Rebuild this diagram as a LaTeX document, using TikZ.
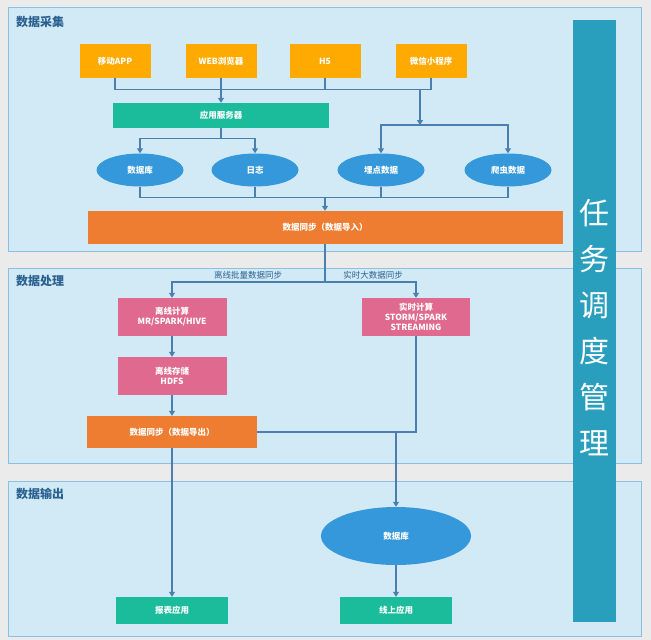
\documentclass[tikz,border=0pt]{standalone}
\usepackage{fontspec}
\setmainfont{Noto Sans CJK SC}
\usetikzlibrary{arrows.meta,shapes.geometric}
\definecolor{pagebg}{HTML}{EBEBEB}
\definecolor{panelfill}{HTML}{D2EAF6}
\definecolor{paneldraw}{HTML}{8CC0E2}
\definecolor{amber}{HTML}{FFAA00}
\definecolor{mint}{HTML}{1ABC9C}
\definecolor{skyblue}{HTML}{3498DB}
\definecolor{carrot}{HTML}{EF7D31}
\definecolor{rose}{HTML}{E0698F}
\definecolor{teal}{HTML}{2A9EBD}
\definecolor{wire}{HTML}{4A7FB0}
\definecolor{titleblue}{HTML}{2B6190}
\begin{document}
\begin{tikzpicture}[x=1pt, y=-1pt,
  panel/.style={fill=panelfill, draw=paneldraw, line width=0.8pt},
  ptitle/.style={text=titleblue, font=\fontsize{12}{14}\selectfont\bfseries, anchor=west, inner sep=0pt},
  box/.style={rectangle, text=white, font=\fontsize{8.5}{10}\selectfont\bfseries, inner sep=0pt, align=center},
  src/.style={box, fill=amber, minimum width=71pt, minimum height=34pt},
  srv/.style={box, fill=mint},
  store/.style={box, ellipse, fill=skyblue, minimum width=87pt, minimum height=33pt},
  sync/.style={box, fill=carrot},
  calc/.style={box, fill=rose, minimum width=109pt, minimum height=38pt},
  line/.style={draw=wire, line width=1.1pt},
  arr/.style={line, -{Triangle[length=5pt,width=6pt]}},
  lbl/.style={text=titleblue, font=\fontsize{8.5}{10}\selectfont, inner sep=0pt}]
  \useasboundingbox (0,0) rectangle (651,640);
  \fill[pagebg] (0,0) rectangle (651,640);
  \draw[panel] (8,7) rectangle (641,251);
  \draw[panel] (8,268) rectangle (641,463);
  \draw[panel] (8,481) rectangle (641,636);
  \node[ptitle] (t1) at (16,22) {数据采集};
  \node[ptitle] (t2) at (16,281) {数据处理};
  \node[ptitle] (t3) at (16,494) {数据输出};
  \fill[teal] (573,20) rectangle (616,622);
  \node[text=white, font=\fontsize{30}{46}\selectfont, align=center, inner sep=0pt] (sched) at (594.5,328) {任\\务\\调\\度\\管\\理};

  \node[src] (app) at (115,61) {移动APP};
  \node[src] (web) at (221,61) {WEB浏览器};
  \node[src] (h5) at (325,61) {H5};
  \node[src] (wx) at (431,61) {微信小程序};
  \node[srv, minimum width=216pt, minimum height=25pt] (appsrv) at (221,115.5) {应用服务器};
  \node[store] (db) at (140,170) {数据库};
  \node[store] (log) at (255,170) {日志};
  \node[store] (track) at (381,170) {埋点数据};
  \node[store] (crawl) at (508,170) {爬虫数据};
  \node[sync, minimum width=475pt, minimum height=33pt] (import) at (325,227.5) {数据同步（数据导入）};
  \node[calc] (offline) at (172,317) {离线计算\\MR/SPARK/HIVE};
  \node[calc, minimum width=108pt] (realtime) at (416,317) {实时计算\\STORM/SPARK\\STREAMING};
  \node[calc] (hdfs) at (172,376) {离线存储\\HDFS};
  \node[sync, minimum width=170pt, minimum height=32pt] (export) at (172,432) {数据同步（数据导出）};
  \node[store, minimum width=150pt, minimum height=58pt] (outdb) at (396,536) {数据库};
  \node[srv, minimum width=112pt, minimum height=27pt] (report) at (172,610.5) {报表应用};
  \node[srv, minimum width=112pt, minimum height=27pt] (online) at (396,610.5) {线上应用};

  \coordinate (j1) at (420,89);
  \coordinate (j2) at (420,125);
  \coordinate (j3) at (325,197);
  \coordinate (j4) at (325,282);
  \coordinate (j5) at (396,432);

  \draw[line] (app.south) -- ++(0,11) -| (wx.south);
  \draw[line] (h5.south) -- ++(0,11);
  \draw[arr] (web.south) -- (appsrv.north);
  \draw[arr] (j1) -- (j2);
  \draw[arr] (j2) -| (track.north);
  \draw[arr] (j2) -| (crawl.north);
  \draw[arr] (appsrv.south) -- ++(0,10) -| (db.north);
  \draw[arr] (appsrv.south) -- ++(0,10) -| (log.north);
  \draw[line] (db.south) -- ++(0,11) -| (crawl.south);
  \draw[line] (log.south) -- ++(0,11);
  \draw[line] (track.south) -- ++(0,11);
  \draw[arr] (j3) -- (import.north);

  \draw[line] (import.south) -- (j4);
  \draw[arr] (j4) -| (offline.north);
  \draw[arr] (j4) -| (realtime.north);
  \node[lbl] (lboff) at (248,275) {离线批量数据同步};
  \node[lbl] (lbrt) at (373,275) {实时大数据同步};
  \draw[arr] (offline) -- (hdfs);
  \draw[arr] (hdfs) -- (export);
  \draw[line] (export.east) -| (realtime.south);
  \draw[arr] (j5) -- (outdb.north);
  \draw[arr] (export.south) -- (report.north);
  \draw[arr] (outdb.south) -- (online.north);
\end{tikzpicture}
\end{document}
